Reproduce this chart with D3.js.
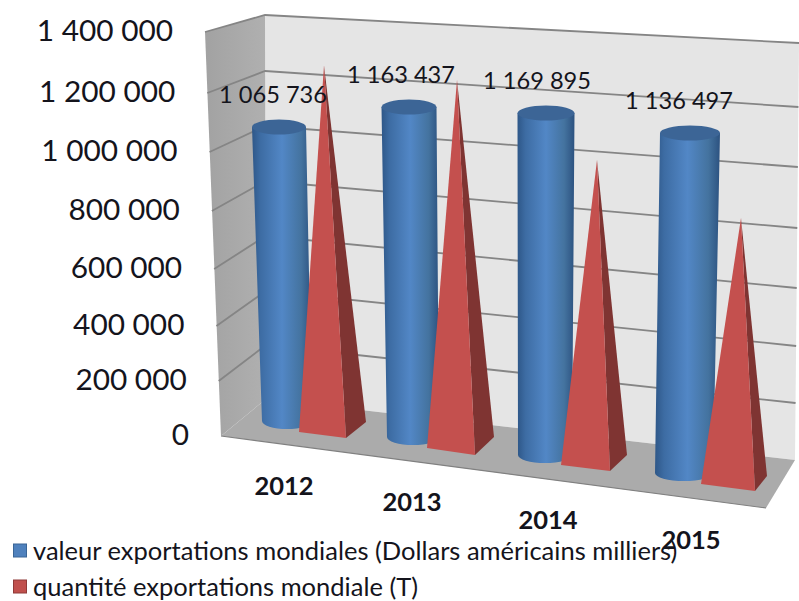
<!DOCTYPE html>
<html lang="fr">
<head>
<meta charset="utf-8">
<title>Exportations mondiales</title>
<script src="https://cdn.jsdelivr.net/npm/d3@7/dist/d3.min.js"></script>
<style>
  html, body { margin: 0; padding: 0; background: #fff; }
  svg { display: block; }
  text { font-family: Lato, "Open Sans", sans-serif; fill: #14141c; }
</style>
</head>
<body>
<svg id="chart" width="799" height="601"></svg>
<script>
// Data
const years = ["2012", "2013", "2014", "2015"];
const exportValues = [1065736, 1163437, 1169895, 1136497];
const exportQuantities = [1315000, 1287000, 1033000, 879000];
const tickValues = [0, 200000, 400000, 600000, 800000, 1000000, 1200000, 1400000];
const seriesNames = [
  "valeur exportations mondiales (Dollars américains milliers)",
  "quantité exportations mondiale (T)"
];

const svg = d3.select("#chart");
const slots = [0, 1, 2, 3];
const fmt = d3.formatLocale({ decimal: ",", thousands: " ", grouping: [3], currency: ["", ""] }).format(",d");

// Perspective of the 3D box: every depth plane gets its own value-to-pixel scale
const wallFrontY = d3.scaleLinear().domain(tickValues).range([436, 381, 326, 269, 211, 152, 93, 32]);
const wallFrontX = d3.scaleLinear().domain([0, 1400000]).range([221, 205]);
const wallBackY = d3.scaleLinear().domain(tickValues).range([399, 345, 291, 236, 181, 126, 71, 15]);
const wallBackX = d3.scaleLinear().domain([0, 1400000]).range([266, 265]);
const wallRightY = d3.scaleLinear().domain(tickValues).range([460, 403, 346, 288, 228, 167, 107, 43]);
const wallRightX = d3.scaleLinear().domain([0, 1400000]).range([795, 799]);

// Per-slot placement of the cylinders and pyramids along the floor
const pixelsPerUnit = d3.scaleLinear().domain(slots).range([0.0002759, 0.0002836, 0.0002923, 0.0002992]);
const cylTopX = d3.scaleLinear().domain(slots).range([279, 409, 546, 690]);
const cylBaseX = d3.scaleLinear().domain(slots).range([287, 413, 545, 684]);
const cylBaseY = d3.scaleLinear().domain(slots).range([421, 437, 455, 473]);
const cylTopR = d3.scaleLinear().domain(slots).range([27, 27.5, 28.5, 30]);
const cylBaseR = d3.scaleLinear().domain(slots).range([25, 26, 27, 29]);

const pyrApexX = d3.scaleLinear().domain(slots).range([324, 457, 597, 741]);
const pyrCenterY = d3.scaleLinear().domain(slots).range([428, 445, 462, 481]);
const pyrFrontLX = d3.scaleLinear().domain(slots).range([299, 427, 561, 701]);
const pyrFrontLY = d3.scaleLinear().domain(slots).range([432, 448, 465, 484]);
const pyrFrontRX = d3.scaleLinear().domain(slots).range([346, 475, 610, 755]);
const pyrFrontRY = d3.scaleLinear().domain(slots).range([438, 455, 471, 491]);
const pyrBackX = d3.scaleLinear().domain(slots).range([366, 494, 627, 767]);
const pyrBackY = d3.scaleLinear().domain(slots).range([422, 437, 455, 476]);

const yearX = d3.scaleLinear().domain(slots).range([284, 412, 548, 691]);
const yearY = d3.scaleLinear().domain(slots).range([487, 503, 521, 541]);
const labelDx = d3.scaleLinear().domain(slots).range([-6, -8, -9, -11]);

const poly = d3.line();
const rangeEnd = d3.max(tickValues);

// Cylinder shading
const grad = svg.append("defs").append("linearGradient").attr("id", "cyl");
[[0, "#2e5788"], [0.14, "#3d6ca3"], [0.5, "#5287c6"], [0.82, "#44739f"], [1, "#2c5280"]]
  .forEach(([o, c]) => grad.append("stop").attr("offset", o).attr("stop-color", c));
const wallGrad = svg.select("defs").append("linearGradient").attr("id", "side");
[[0, "#a2a2a2"], [1, "#b0b0b0"]]
  .forEach(([o, c]) => wallGrad.append("stop").attr("offset", o).attr("stop-color", c));

// Back wall, side wall and floor
svg.append("path").attr("fill", "#e5e5e5").attr("d", poly([
  [wallBackX(rangeEnd), wallBackY(rangeEnd)], [wallRightX(rangeEnd), wallRightY(rangeEnd)],
  [wallRightX(0), wallRightY(0)], [wallBackX(0), wallBackY(0)]]) + "Z");
svg.append("path").attr("fill", "url(#side)").attr("d", poly([
  [wallFrontX(rangeEnd), wallFrontY(rangeEnd)], [wallBackX(rangeEnd), wallBackY(rangeEnd)],
  [wallBackX(0), wallBackY(0)], [wallFrontX(0), wallFrontY(0)]]) + "Z");
svg.append("path").attr("fill", "#ababab").attr("d", poly([
  [wallFrontX(0), wallFrontY(0)], [wallBackX(0), wallBackY(0)],
  [wallRightX(0), wallRightY(0)], [766, 508]]) + "Z");
svg.append("path").attr("fill", "none").attr("stroke", "#808080").attr("stroke-width", 1.2)
  .attr("d", poly([[wallFrontX(0), wallFrontY(0)], [766, 508]]));

// Gridlines wrapping around both walls
svg.append("g").selectAll("path").data(tickValues.filter(v => v > 0)).join("path")
  .attr("fill", "none").attr("stroke", "#858585").attr("stroke-width", 1.8)
  .attr("d", v => poly([[wallFrontX(v), wallFrontY(v)], [wallBackX(v), wallBackY(v)], [wallRightX(v), wallRightY(v)]]));

// Value axis labels follow the slanted front edge of the side wall
svg.append("g").selectAll("text").data(tickValues).join("text")
  .attr("x", v => wallFrontX(v) - 32)
  .attr("y", v => wallFrontY(v) + 9)
  .attr("text-anchor", "end")
  .attr("font-size", 29.8)
  .text(fmt);

// Cylinders (export value)
const cyl = svg.append("g").selectAll("g").data(slots).join("g");
cyl.append("path").attr("fill", "url(#cyl)").attr("d", i => {
  const topY = cylBaseY(i) - exportValues[i] * pixelsPerUnit(i);
  const tr = cylTopR(i), br = cylBaseR(i), tx = cylTopX(i), bx = cylBaseX(i), by = cylBaseY(i);
  return `M${tx - tr},${topY}L${bx - br},${by}A${br},8 0 0 0 ${bx + br},${by}L${tx + tr},${topY}Z`;
});
cyl.append("ellipse")
  .attr("cx", i => cylTopX(i))
  .attr("cy", i => cylBaseY(i) - exportValues[i] * pixelsPerUnit(i))
  .attr("rx", i => cylTopR(i))
  .attr("ry", 7.5)
  .attr("fill", "#3c6596");

// Pyramids (export quantity)
const pyr = svg.append("g").selectAll("g").data(slots).join("g");
const apex = i => [pyrApexX(i), pyrCenterY(i) - exportQuantities[i] * pixelsPerUnit(i)];
pyr.append("path").attr("fill", "#7f3432").attr("d", i => poly([
  apex(i), [pyrFrontRX(i), pyrFrontRY(i)], [pyrBackX(i), pyrBackY(i)]]) + "Z");
pyr.append("path").attr("fill", "#c4504e").attr("d", i => poly([
  apex(i), [pyrFrontLX(i), pyrFrontLY(i)], [pyrFrontRX(i), pyrFrontRY(i)]]) + "Z");

// Value labels above the cylinders
svg.append("g").selectAll("text").data(slots).join("text")
  .attr("x", i => cylTopX(i) + labelDx(i))
  .attr("y", i => cylBaseY(i) - exportValues[i] * pixelsPerUnit(i) - 24)
  .attr("text-anchor", "middle")
  .attr("font-size", 23.6)
  .text(i => fmt(exportValues[i]));

// Legend
const legendY = d3.scalePoint().domain(seriesNames).range([551, 587]);
const legendColor = d3.scaleOrdinal().domain(seriesNames).range(["#4f81bd", "#c0504d"]);
const legendStroke = d3.scaleOrdinal().domain(seriesNames).range(["#3a6596", "#8f3a38"]);
const legend = svg.append("g").selectAll("g").data(seriesNames).join("g");
legend.append("rect")
  .attr("x", 13.5).attr("y", d => legendY(d) - 7).attr("width", 13).attr("height", 13)
  .attr("fill", legendColor).attr("stroke", legendStroke);
legend.append("text")
  .attr("x", 33).attr("y", d => legendY(d) + 9)
  .attr("font-size", 25.5)
  .text(d => d);

// Category labels
svg.append("g").selectAll("text").data(slots).join("text")
  .attr("x", yearX).attr("y", i => yearY(i) + 8)
  .attr("text-anchor", "middle")
  .attr("font-size", 25.5).attr("font-weight", 700)
  .text(i => years[i]);
</script>
</body>
</html>
